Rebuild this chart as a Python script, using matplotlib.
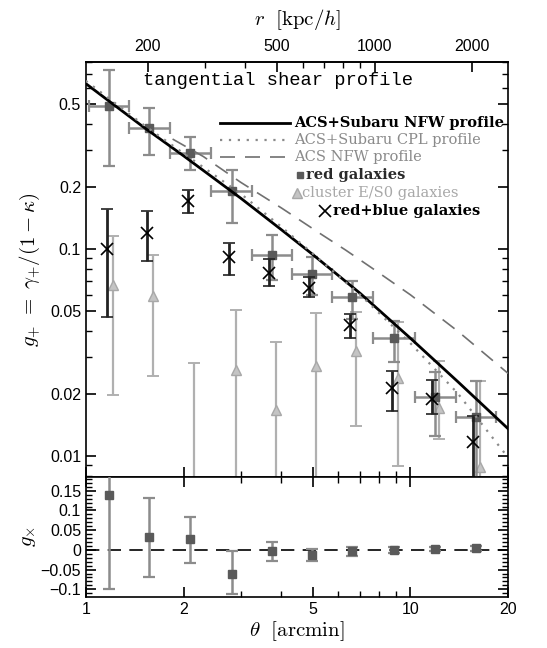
import numpy as np
import matplotlib.pyplot as plt
from matplotlib.ticker import FixedLocator, NullFormatter, FuncFormatter, MultipleLocator

plt.rcParams['mathtext.fontset'] = 'cm'
plt.rcParams['font.family'] = 'Liberation Sans'
plt.rcParams['xtick.direction'] = 'in'
plt.rcParams['ytick.direction'] = 'in'
plt.rcParams['axes.linewidth'] = 1.2

# radial bins (arcmin) and bin edges
theta = np.array([1.18, 1.57, 2.10, 2.81, 3.74, 4.97, 6.62, 8.92, 11.9, 15.9])
theta_lo = np.array([1.02, 1.36, 1.81, 2.43, 3.24, 4.31, 5.74, 7.68, 10.3, 13.8])
theta_hi = np.array([1.36, 1.81, 2.43, 3.24, 4.31, 5.74, 7.68, 10.3, 13.8, 18.4])

# red galaxies g+
red_g = np.array([0.49, 0.383, 0.29, 0.19, 0.094, 0.076, 0.0585, 0.037, 0.0193, 0.0154])
red_hi = np.array([0.73, 0.481, 0.346, 0.241, 0.117, 0.0913, 0.070, 0.045, 0.0255, 0.0229])
red_lo = np.array([0.253, 0.285, 0.24, 0.134, 0.071, 0.060, 0.046, 0.0285, 0.0125, 0.0078])

# red+blue galaxies g+
rb_g = np.array([0.100, 0.120, 0.170, 0.091, 0.0764, 0.0647, 0.043, 0.0212, 0.0188, 0.0116])
rb_hi = np.array([0.156, 0.152, 0.192, 0.107, 0.089, 0.073, 0.0485, 0.0256, 0.0233, 0.0156])
rb_lo = np.array([0.047, 0.087, 0.149, 0.075, 0.0661, 0.0585, 0.0373, 0.0164, 0.016, 0.006])

# cluster E/S0 galaxies g+
es0_g = np.array([0.067, 0.059, 0.004, 0.0261, 0.0167, 0.0273, 0.032, 0.0238, 0.0171, 0.0088])
es0_hi = np.array([0.115, 0.094, 0.028, 0.0506, 0.0356, 0.0491, 0.0495, 0.0442, 0.0288, 0.023])
es0_lo = np.array([0.0197, 0.0242, 0.003, 0.003, 0.003, 0.003, 0.014, 0.0089, 0.0121, 0.003])

# model curves
th_nfw = np.array([1, 1.5, 2, 3, 4, 5, 7, 10, 14, 20])
g_nfw = np.array([0.63, 0.39, 0.282, 0.176, 0.124, 0.094, 0.061, 0.037, 0.0228, 0.0135])
g_cpl = np.array([0.65, 0.40, 0.29, 0.185, 0.128, 0.095, 0.060, 0.035, 0.020, 0.0098])
th_acs = np.array([1.85, 2.3, 3, 4, 5.3, 6.3, 7.6, 10, 14, 20])
g_acs = np.array([0.34, 0.28, 0.21, 0.158, 0.118, 0.099, 0.081, 0.060, 0.040, 0.025])

# cross shear g_x (red galaxies)
gx = np.array([0.14, 0.033, 0.027, -0.060, -0.002, -0.0125, -0.0025, 0.0, 0.002, 0.004])
gx_hi = np.array([0.378, 0.132, 0.083, -0.004, 0.021, 0.003, 0.008, 0.007, 0.007, 0.010])
gx_lo = np.array([-0.098, -0.068, -0.032, -0.1125, -0.027, -0.027, -0.015, -0.007, -0.003, -0.002])

kpc_per_arcmin = 129.0

fig = plt.figure(figsize=(5.47, 6.48), dpi=100)
ax = fig.add_axes([0.157, 0.264, 0.772, 0.640])
ax2 = fig.add_axes([0.157, 0.079, 0.772, 0.185], sharex=ax)

c_red = '#5a5a5a'
c_rederr = '#8c8c8c'
c_es0 = '#b0b0b0'

ax.errorbar(theta * 1.029, es0_g, yerr=[es0_g - es0_lo, es0_hi - es0_g], fmt='^', ms=7,
            mfc='#c4c4c4', mec='#a8a8a8', ecolor=c_es0, elinewidth=1.6, capsize=4, capthick=1.4, zorder=2)
ax.errorbar(theta, red_g, yerr=[red_g - red_lo, red_hi - red_g],
            xerr=[theta - theta_lo, theta_hi - theta], fmt='s', ms=5.5,
            mfc=c_red, mec=c_red, ecolor=c_rederr, elinewidth=1.8, capsize=4, capthick=1.6, zorder=3)
ax.errorbar(theta * 0.981, rb_g, yerr=[rb_g - rb_lo, rb_hi - rb_g], fmt='x', ms=8, mew=1.2,
            color='black', ecolor='#222222', elinewidth=2.0, capsize=4.5, capthick=2.0, zorder=4)

ax.plot(th_nfw, g_nfw, color='black', lw=2.0, zorder=5)
ax.plot(th_nfw, g_cpl, color='#8a8a8a', lw=1.6, ls=(0, (1, 3)), zorder=5)
ax.plot(th_acs, g_acs, color='#707070', lw=1.2, ls=(0, (9, 6)), zorder=5)

ax.set_xscale('log')
ax.set_yscale('log')
ax.set_xlim(1, 20)
ax.set_ylim(0.0079, 0.80)

ax.yaxis.set_major_locator(FixedLocator([0.01, 0.02, 0.05, 0.1, 0.2, 0.5]))
ax.yaxis.set_major_formatter(FuncFormatter(lambda v, p: '%g' % v))
ax.yaxis.set_minor_locator(FixedLocator([k * d for d in [0.001, 0.01, 0.1] for k in range(1, 10)]))
ax.yaxis.set_minor_formatter(NullFormatter())
ax.tick_params(axis='both', which='major', length=7, width=1.2, right=True, labelsize=11.5)
ax.tick_params(axis='both', which='minor', length=4, width=1.0, right=True)
ax.tick_params(axis='x', which='both', labelbottom=False)
ax.set_ylabel(r'$g_{+}\ =\ \gamma_{+}/(1-\kappa)$', fontsize=15, labelpad=6)

secax = ax.secondary_xaxis('top', functions=(lambda t: t * kpc_per_arcmin, lambda r: r / kpc_per_arcmin))
secax.xaxis.set_major_locator(FixedLocator([200, 500, 1000, 2000]))
secax.xaxis.set_major_formatter(FuncFormatter(lambda v, p: '%d' % v))
secax.xaxis.set_minor_locator(FixedLocator([k * d for d in [100, 1000] for k in range(1, 10)]))
secax.xaxis.set_minor_formatter(NullFormatter())
secax.tick_params(which='major', length=7, width=1.2, labelsize=11.5, direction='in', pad=6)
secax.tick_params(which='minor', length=4, width=1.0, direction='in')
secax.set_xlabel(r'$r\ \ [\mathrm{kpc}/h]$', fontsize=15, labelpad=10)

ax.text(0.455, 0.957, 'tangential shear profile', transform=ax.transAxes,
        ha='center', va='center', fontsize=13.5, family='Liberation Mono')

# legend
leg_y = [0.853, 0.812, 0.771, 0.728, 0.684, 0.641]
ax.plot([0.318, 0.483], [leg_y[0]] * 2, transform=ax.transAxes, color='black', lw=2.0)
ax.plot([0.318, 0.483], [leg_y[1]] * 2, transform=ax.transAxes, color='#8a8a8a', lw=1.6, ls=(0, (1, 3)))
ax.plot([0.318, 0.483], [leg_y[2]] * 2, transform=ax.transAxes, color='#707070', lw=1.2, ls=(0, (9, 6)))
ax.plot([0.507], [leg_y[3]], 's', transform=ax.transAxes, ms=5, color=c_red)
ax.plot([0.500], [leg_y[4]], '^', transform=ax.transAxes, ms=6.5, mfc='#c4c4c4', mec='#a8a8a8')
ax.plot([0.566], [leg_y[5]], 'x', transform=ax.transAxes, ms=8, mew=1.2, color='black')
leg_kw = dict(transform=ax.transAxes, va='center', ha='left', family='DejaVu Serif', fontsize=10.5)
ax.text(0.493, leg_y[0], 'ACS+Subaru NFW profile', color='black', weight='bold', **leg_kw)
ax.text(0.493, leg_y[1], 'ACS+Subaru CPL profile', color='#8a8a8a', **leg_kw)
ax.text(0.493, leg_y[2], 'ACS NFW profile', color='#8a8a8a', **leg_kw)
ax.text(0.521, leg_y[3], 'red galaxies', color='#2a2a2a', weight='bold', **leg_kw)
ax.text(0.512, leg_y[4], 'cluster E/S0 galaxies', color='#a8a8a8', **leg_kw)
ax.text(0.585, leg_y[5], 'red+blue galaxies', color='black', weight='bold', **leg_kw)

# cross shear panel
ax2.errorbar(theta, gx, yerr=[gx - gx_lo, gx_hi - gx], fmt='s', ms=5.5, mfc=c_red, mec=c_red,
             ecolor=c_rederr, elinewidth=1.8, capsize=4, capthick=1.6, zorder=3)
ax2.axhline(0, color='black', lw=1.2, ls=(0, (8, 5)), zorder=2)
ax2.set_ylim(-0.119, 0.185)
ax2.yaxis.set_major_locator(MultipleLocator(0.05))
ax2.yaxis.set_minor_locator(MultipleLocator(0.01))
ax2.yaxis.set_major_formatter(FuncFormatter(lambda v, p: ('%g' % round(v, 3)).replace('-', '\u2212')))
ax2.xaxis.set_major_locator(FixedLocator([1, 2, 5, 10, 20]))
ax2.xaxis.set_major_formatter(FuncFormatter(lambda v, p: '%g' % v))
ax2.xaxis.set_minor_locator(FixedLocator([k * d for d in [1, 10] for k in range(1, 10)]))
ax2.xaxis.set_minor_formatter(NullFormatter())
ax2.tick_params(axis='both', which='major', length=7, width=1.2, right=True, top=True, labelsize=11.5)
ax2.tick_params(axis='both', which='minor', length=4, width=1.0, right=True, top=True)
ax2.set_ylabel(r'$g_{\times}$', fontsize=15, labelpad=2)
ax2.set_xlabel(r'$\theta\ \ [\mathrm{arcmin}]$', fontsize=15, labelpad=2)
ax2.set_xlim(1, 20)

fig.savefig('out.png', dpi=100)
